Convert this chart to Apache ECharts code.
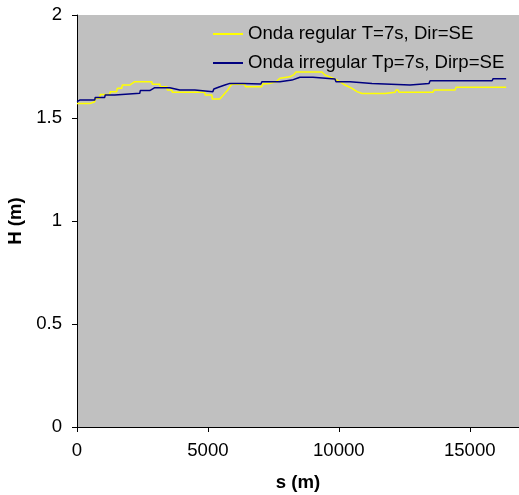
<!DOCTYPE html>
<html>
<head>
<meta charset="utf-8">
<script src="https://cdn.jsdelivr.net/npm/echarts@6/dist/echarts.min.js"></script>
<style>
  html, body { margin: 0; padding: 0; background: #ffffff; }
  #chart { width: 519px; height: 495px; }
</style>
</head>
<body>
<div id="chart"></div>
<script>
// Wave height H (m) along the coastline distance s (m)
const regularName = 'Onda regular T=7s, Dir=SE';
const irregularName = 'Onda irregular Tp=7s, Dirp=SE';

const regularS = [0, 486, 505, 677, 696, 868, 887, 1250, 1269, 1518, 1537, 1709, 1728, 2014, 2053, 2206, 2856, 2875, 3162, 3181, 3429, 3448, 3620, 3639, 4870, 4901, 5150, 5169, 5455, 5532, 5647, 5761, 5838, 5914, 6411, 6430, 7061, 7080, 7367, 7596, 7749, 8132, 8284, 8361, 9355, 9470, 9776, 10043, 10235, 10502, 10693, 10884, 11764, 11802, 12146, 12184, 12261, 12299, 13598, 13636, 14440, 14478, 16389];
const regularH = [1.570, 1.570, 1.579, 1.579, 1.596, 1.596, 1.614, 1.614, 1.628, 1.628, 1.644, 1.644, 1.660, 1.660, 1.668, 1.676, 1.676, 1.664, 1.664, 1.652, 1.652, 1.636, 1.636, 1.625, 1.625, 1.612, 1.612, 1.592, 1.592, 1.603, 1.620, 1.636, 1.652, 1.664, 1.664, 1.652, 1.652, 1.665, 1.668, 1.676, 1.693, 1.700, 1.711, 1.723, 1.723, 1.709, 1.693, 1.676, 1.660, 1.644, 1.628, 1.619, 1.619, 1.625, 1.625, 1.636, 1.636, 1.625, 1.625, 1.636, 1.636, 1.649, 1.649];

const irregularS = [0, 103, 677, 696, 1059, 1078, 1441, 1460, 2397, 2416, 2779, 2798, 2970, 3544, 3582, 3926, 4500, 4519, 5188, 5226, 5455, 5647, 5838, 6335, 6354, 7023, 7061, 7749, 7787, 8208, 8246, 8514, 9011, 9030, 9852, 9890, 10425, 10464, 11266, 11304, 12719, 12757, 13445, 13484, 15854, 15892, 16389];
const irregularH = [1.579, 1.587, 1.587, 1.600, 1.600, 1.612, 1.612, 1.620, 1.620, 1.633, 1.633, 1.639, 1.647, 1.647, 1.639, 1.636, 1.636, 1.628, 1.628, 1.641, 1.652, 1.660, 1.668, 1.668, 1.665, 1.665, 1.676, 1.676, 1.684, 1.684, 1.693, 1.698, 1.698, 1.689, 1.689, 1.676, 1.676, 1.668, 1.668, 1.660, 1.660, 1.668, 1.668, 1.681, 1.681, 1.691, 1.691];

const xTicks = { min: 0, max: 16880, step: 5000 };
const yTicks = { min: 0, max: 2, step: 0.5 };

const pairs = (xs, ys) => xs.map((x, i) => [x, ys[i]]);

const font = 'Arial, "Liberation Sans", sans-serif';
const fs = 18.6;
const chart = echarts.init(document.getElementById('chart'), null, { renderer: 'canvas' });

chart.setOption({
  animation: false,
  backgroundColor: '#ffffff',
  grid: {
    left: 77, top: 15, right: 0, bottom: 68,
    containLabel: false, outerBoundsMode: 'none',
    show: true, backgroundColor: '#c0c0c0', borderWidth: 0
  },
  legend: {
    orient: 'vertical',
    left: 208, top: 19,
    itemWidth: 30, itemHeight: 2,
    itemGap: 9,
    icon: 'rect',
    textStyle: { fontFamily: font, fontSize: fs, color: '#000000', lineHeight: 20 },
    data: [regularName, irregularName]
  },
  xAxis: {
    type: 'value',
    min: xTicks.min, max: xTicks.max, interval: xTicks.step,
    name: 's (m)', nameLocation: 'middle', nameGap: 46,
    nameTextStyle: { fontFamily: font, fontSize: fs, fontWeight: 'bold', color: '#000000' },
    axisLine: { show: true, lineStyle: { color: '#000000', width: 1 } },
    axisTick: { show: true, inside: false, length: 5, lineStyle: { color: '#000000' } },
    axisLabel: {
      fontFamily: font, fontSize: fs, color: '#000000', margin: 14, showMaxLabel: false,
      formatter: v => String(v)
    },
    splitLine: { show: false }
  },
  yAxis: {
    type: 'value',
    min: yTicks.min, max: yTicks.max, interval: yTicks.step,
    name: 'H (m)', nameLocation: 'middle', nameGap: 50,
    nameTextStyle: { fontFamily: font, fontSize: fs, fontWeight: 'bold', color: '#000000' },
    axisLine: { show: true, lineStyle: { color: '#000000', width: 1 } },
    axisTick: { show: true, inside: false, length: 5, lineStyle: { color: '#000000' } },
    axisLabel: { fontFamily: font, fontSize: fs, color: '#000000', margin: 15, formatter: v => String(v) },
    splitLine: { show: false }
  },
  series: [
    {
      name: regularName, type: 'line', showSymbol: false, symbol: 'none',
      color: '#ffff00', lineStyle: { color: '#ffff00', width: 1.5 },
      data: pairs(regularS, regularH), z: 3
    },
    {
      name: irregularName, type: 'line', showSymbol: false, symbol: 'none',
      color: '#000080', lineStyle: { color: '#000080', width: 1.5 },
      data: pairs(irregularS, irregularH), z: 4
    }
  ]
});
</script>
</body>
</html>
